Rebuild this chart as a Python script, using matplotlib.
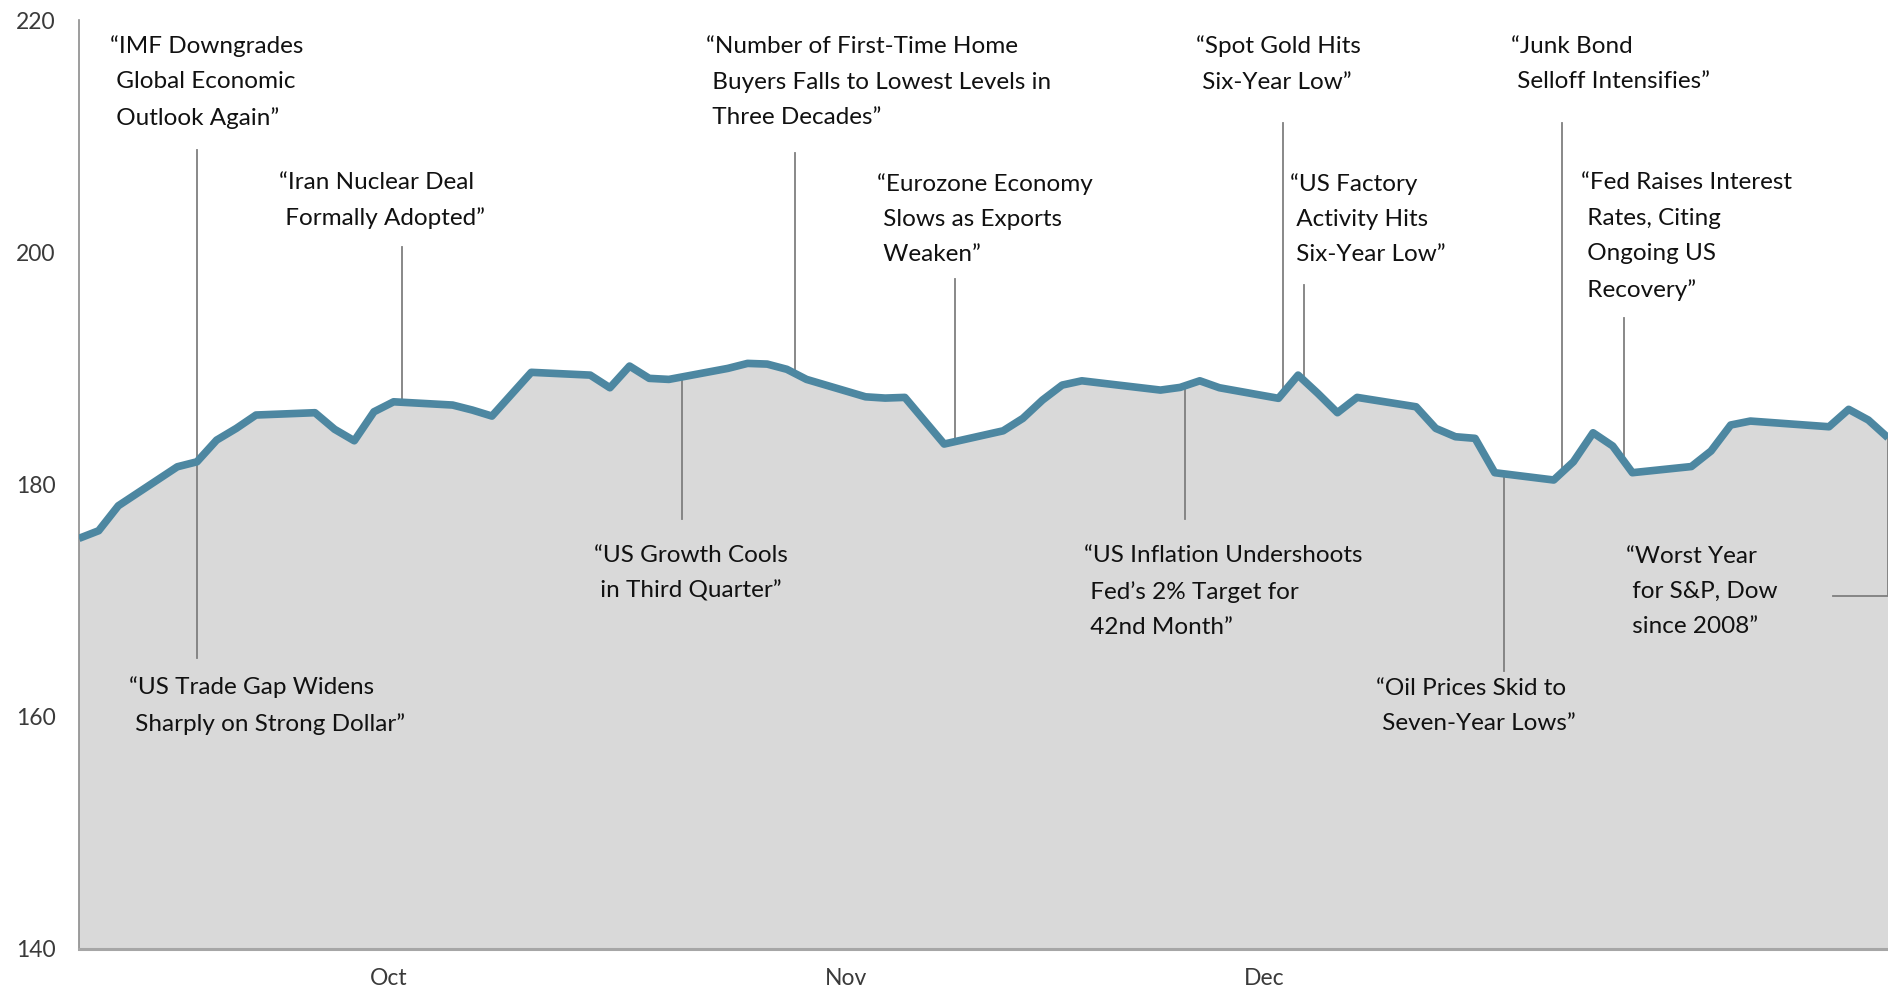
import matplotlib
matplotlib.use("Agg")
import matplotlib.pyplot as plt
import matplotlib.dates as mdates
import numpy as np
import pandas as pd

plt.rcParams["font.family"] = ["Lato", "DejaVu Sans"]

# daily closes, Sep 30 - Dec 31 2015
dates = pd.to_datetime([
    "2015-09-30", "2015-10-01", "2015-10-02", "2015-10-05", "2015-10-06",
    "2015-10-07", "2015-10-08", "2015-10-09", "2015-10-12", "2015-10-13",
    "2015-10-14", "2015-10-15", "2015-10-16", "2015-10-19", "2015-10-20",
    "2015-10-21", "2015-10-23", "2015-10-26", "2015-10-27", "2015-10-28",
    "2015-10-29", "2015-10-30", "2015-11-02", "2015-11-03", "2015-11-04",
    "2015-11-05", "2015-11-06", "2015-11-09", "2015-11-10", "2015-11-11",
    "2015-11-13", "2015-11-16", "2015-11-17", "2015-11-18", "2015-11-19",
    "2015-11-20", "2015-11-24", "2015-11-25", "2015-11-26", "2015-11-27",
    "2015-11-30", "2015-12-01", "2015-12-02", "2015-12-03", "2015-12-04",
    "2015-12-07", "2015-12-08", "2015-12-09", "2015-12-10", "2015-12-11",
    "2015-12-14", "2015-12-15", "2015-12-16", "2015-12-17", "2015-12-18",
    "2015-12-21", "2015-12-22", "2015-12-23", "2015-12-24", "2015-12-28",
    "2015-12-29", "2015-12-30", "2015-12-31",
])
values = [
    175.37, 176.03, 178.18, 181.54, 181.97,
    183.84, 184.85, 186.00, 186.20, 184.77,
    183.78, 186.28, 187.14, 186.86, 186.43,
    185.91, 189.68, 189.44, 188.35, 190.22,
    189.16, 189.07, 190.02, 190.45, 190.39,
    189.94, 189.07, 187.57, 187.46, 187.52,
    183.50, 184.64, 185.71, 187.29, 188.58,
    188.95, 188.15, 188.38, 188.95, 188.35,
    187.44, 189.44, 187.87, 186.20, 187.52,
    186.71, 184.85, 184.13, 183.99, 181.03,
    180.40, 181.97, 184.47, 183.33, 181.03,
    181.56, 182.90, 185.14, 185.48, 184.99,
    186.49, 185.57, 184.04,
]

month_ticks = pd.to_datetime(["2015-10-15 18:00", "2015-11-08 00:00", "2015-11-29 07:00"])
month_labels = ["Oct", "Nov", "Dec"]
y_ticks = [140, 160, 180, 200, 220]

# headline, date of the marker line, where the line ends on the text side,
# text anchor (axes fraction)
headlines = [
    ("“IMF Downgrades\n Global Economic\n Outlook Again”", "2015-10-06 00:00", 208.8, (0.0171, 0.9337)),
    ("“Iran Nuclear Deal\n Formally Adopted”", "2015-10-16 10:20", 200.5, (0.1106, 0.8061)),
    ("“Number of First-Time Home\n Buyers Falls to Lowest Levels in\n Three Decades”", "2015-11-05 10:00", 208.6, (0.3466, 0.9337)),
    ("“Eurozone Economy\n Slows as Exports\n Weaken”", "2015-11-13 13:30", 197.7, (0.4411, 0.7861)),
    ("“Spot Gold Hits\n Six-Year Low”", "2015-11-30 05:20", 211.2, (0.6175, 0.9532)),
    ("“US Factory\n Activity Hits\n Six-Year Low”", "2015-12-01 07:30", 197.2, (0.6694, 0.7861)),
    ("“Junk Bond\n Selloff Intensifies”", "2015-12-14 10:20", 211.2, (0.7916, 0.9532)),
    ("“Fed Raises Interest\n Rates, Citing\n Ongoing US\n Recovery”", "2015-12-17 13:40", 194.4, (0.8303, 0.7673)),
    ("“US Trade Gap Widens\n Sharply on Strong Dollar”", "2015-10-06 00:00", 165.1, (0.0276, 0.2616)),
    ("“US Growth Cools\n in Third Quarter”", "2015-10-30 16:00", 177.0, (0.2847, 0.4048)),
    ("“US Inflation Undershoots\n Fed’s 2% Target for\n 42nd Month”", "2015-11-25 06:00", 177.0, (0.5556, 0.3851)),
    ("“Oil Prices Skid to\n Seven-Year Lows”", "2015-12-11 11:30", 163.9, (0.7170, 0.2616)),
]
worst_text = "“Worst Year\n for S&P, Dow\n since 2008”"

FS = 17.5
LS = 1.84

fig = plt.figure(figsize=(18.88, 9.88), dpi=100)
ax = fig.add_axes([79 / 1888, 39.2 / 988, 1 - 79 / 1888, 928.3 / 988])

xnum = mdates.date2num(dates)
ax.fill_between(dates, values, 140, color="#d9d9d9", linewidth=0, zorder=1)
ax.plot(dates, values, color="#4d87a1", linewidth=5.5, solid_joinstyle="round",
        solid_capstyle="butt", zorder=3)

ax.set_xlim(dates[0], dates[-1])
ax.set_ylim(140, 220)
ax.set_yticks(y_ticks)
ax.set_xticks(month_ticks)
ax.set_xticklabels(month_labels)
ax.tick_params(axis="both", length=0, labelsize=16.5, labelcolor="#3a3a3a")
ax.tick_params(axis="y", pad=17)
ax.tick_params(axis="x", pad=14)

for s in ["top", "right"]:
    ax.spines[s].set_visible(False)
ax.spines["left"].set_color("#8c8c8c")
ax.spines["left"].set_linewidth(1.2)
ax.spines["bottom"].set_color("#a6a6a6")
ax.spines["bottom"].set_linewidth(2.2)

line_kw = dict(color="#7f7f7f", linewidth=1.3, zorder=2)
for txt, when, y_end, (tx, ty) in headlines:
    t = pd.Timestamp(when)
    y_curve = np.interp(mdates.date2num(t), xnum, values)
    ax.plot([t, t], [y_end, y_curve], **line_kw)
    ax.text(tx, ty, txt, transform=ax.transAxes, ha="left", va="center",
            fontsize=FS, color="#111111", linespacing=LS)

# last headline hooks round to the final close
ax.plot([pd.Timestamp("2015-12-28 05:00"), dates[-1], dates[-1]],
        [170.4, 170.4, values[-1]], clip_on=False, **line_kw)
ax.text(0.8552, 0.3851, worst_text, transform=ax.transAxes, ha="left", va="center",
        fontsize=FS, color="#111111", linespacing=LS)

fig.savefig("out.png", dpi=100)
